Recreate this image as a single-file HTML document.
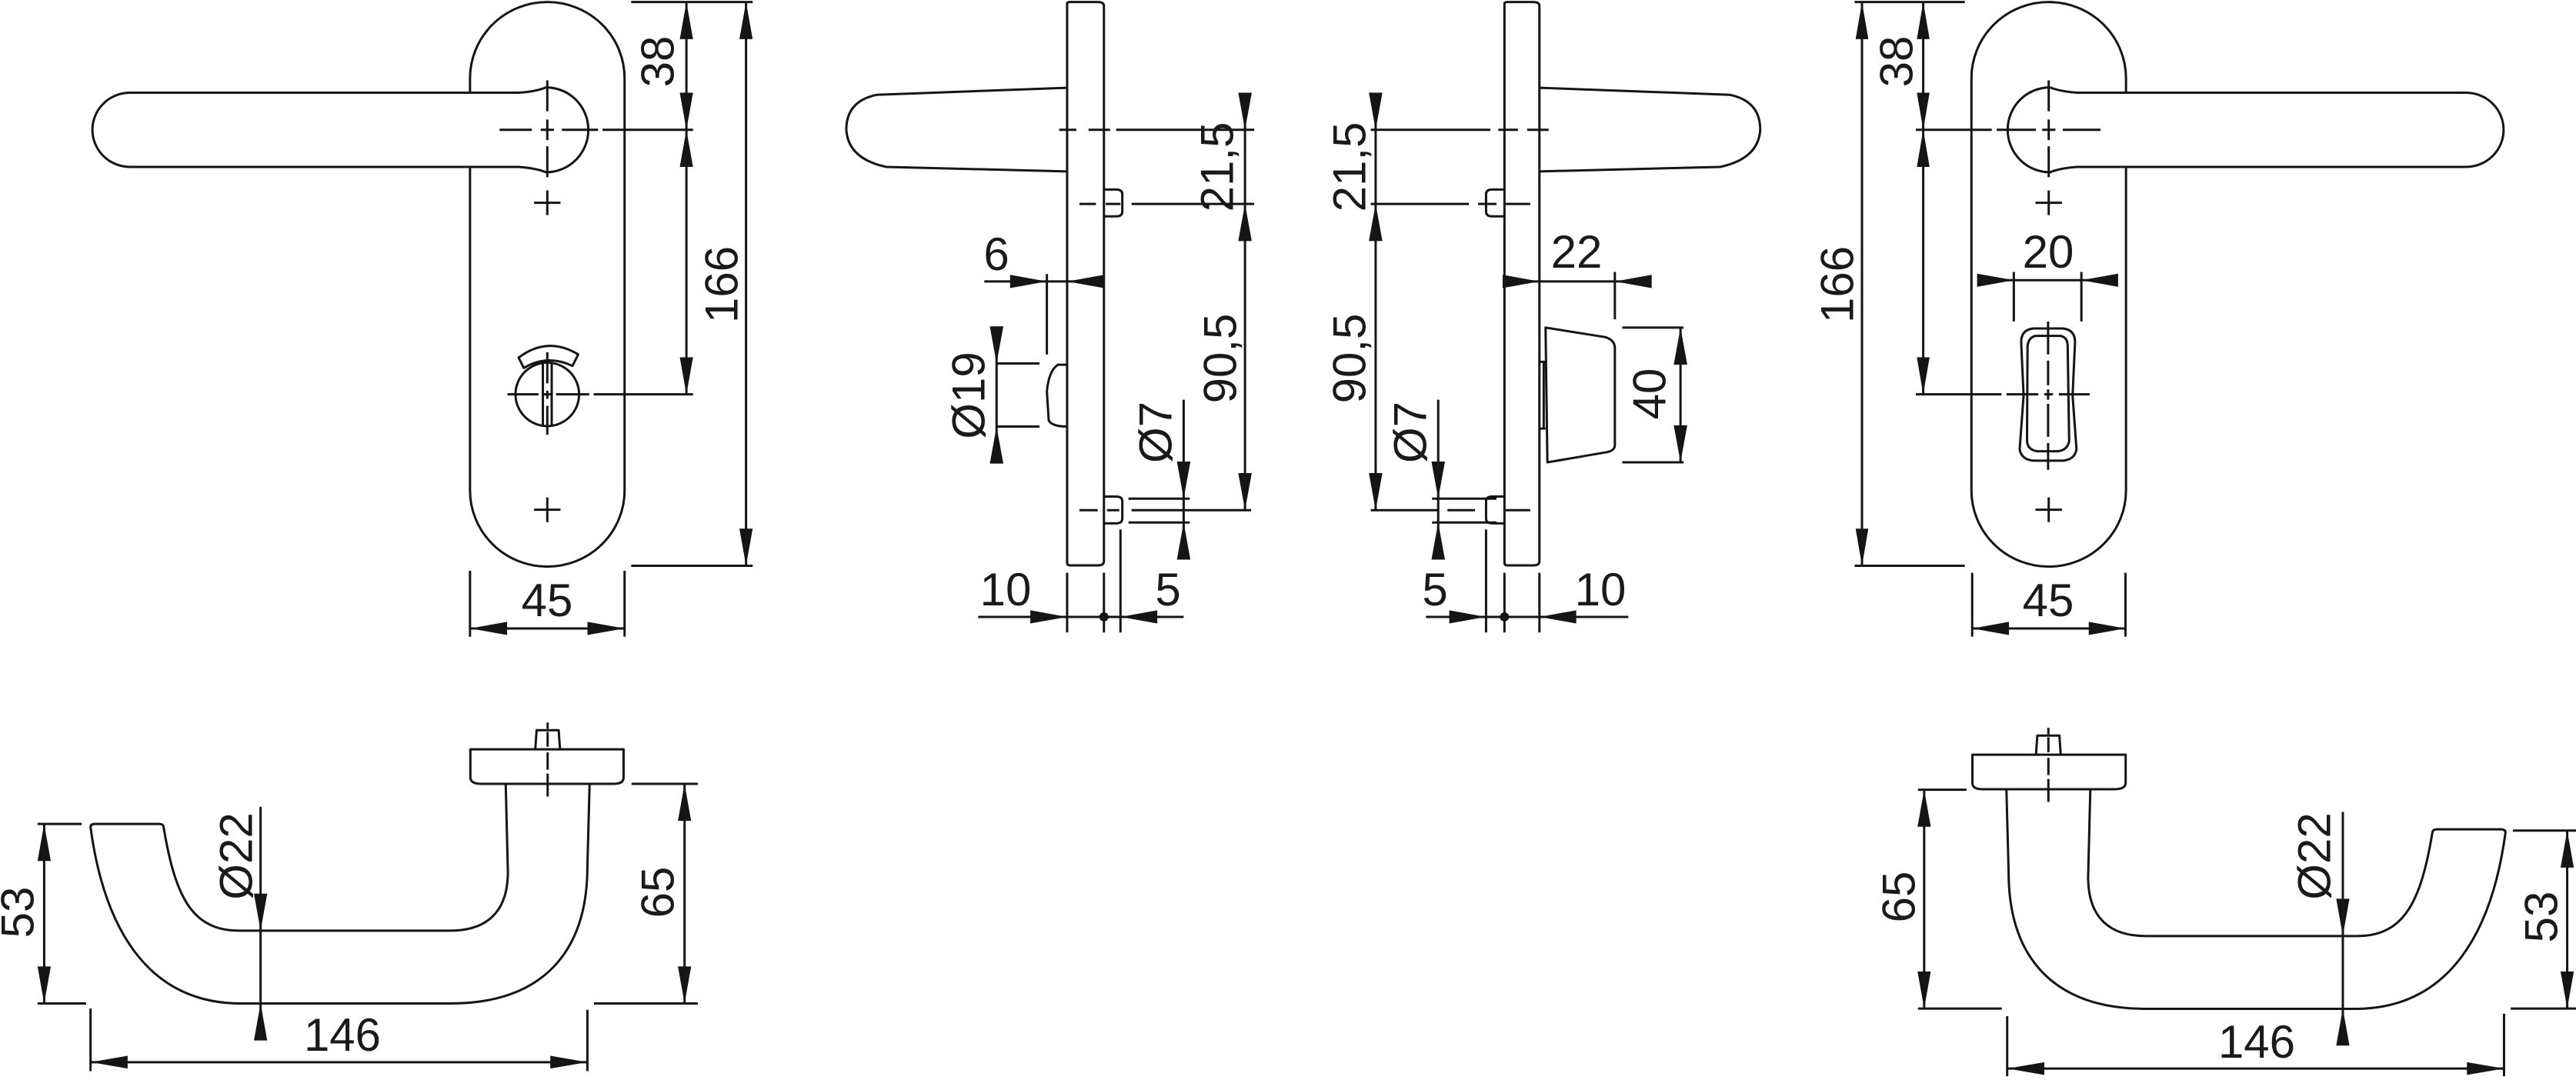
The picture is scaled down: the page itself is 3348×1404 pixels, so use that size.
<!DOCTYPE html>
<html><head><meta charset="utf-8"><style>
html,body{margin:0;padding:0;background:#fff;}
svg{display:block}
.s path,.s ellipse,path.s,ellipse.s{fill:none;stroke:#151515;stroke-width:3;vector-effect:non-scaling-stroke;stroke-linejoin:round}
.a polygon{fill:#151515;stroke:none}
text{font-family:"Liberation Sans",Arial,sans-serif;font-size:60px;fill:#1a1a1a}
</style></head><body>
<svg width="3348" height="1404" xmlns="http://www.w3.org/2000/svg">
<defs>
<g id="tv" class="s">
<path d="M890,225 L890,190 A175,185 0 0 1 1240,190 L1240,1190 A175,185 0 0 1 890,1190 L890,405"/>
<path d="M1062,212 Q1040,222 1000,225 L120,225 A85,90 0 0 0 120,405 L1000,405 Q1040,408 1062,418 A95,102 0 1 0 1062,212"/>
<path d="M1065,195 V270 M1065,290 V340 M1065,355 V430"/>
<path d="M1035,492 H1095 M1065,462 V522 M1035,1237 H1095 M1065,1207 V1267"/>
</g>
<g id="bv" class="s">
<path d="M1065,160 H1412 V270 Q1412,295 1390,295 H1090 Q1065,295 1065,270 Z"/>
<path d="M1212,160 L1215,85 H1265 L1268,160"/>
<path d="M1240,55 V80 M1240,92 V150 M1240,172 V240 M1240,255 V345"/>
<path d="M1145,295 L1150,640 C1150,800 1100,870 1020,870 L540,870 C430,870 395,720 370,460 Q368,452 360,452 L215,452 Q205,452 205,465 C235,850 330,1150 540,1155 L1020,1155 C1230,1155 1330,950 1330,620 L1335,295"/>
</g>
</defs>

<!-- top-left view -->
<g transform="translate(100,0) scale(0.574,0.5357)">
<use href="#tv"/>
<g class="s">
<path d="M957,315 H1030 M1050,315 H1080 M1098,315 H1180 M1190,315 H1395"/>
<ellipse cx="1065" cy="957" rx="72" ry="77"/>
<path d="M1055,880 V1032 M1075,880 V1032"/>
<path d="M1000,868 Q1065,815 1135,860 L1122,888 Q1065,859 1012,893 Z"/>
<path d="M1065,855 V930 M1065,948 V968 M1065,985 V1055 M975,957 H1045 M1055,957 H1075 M1085,957 H1160 M1170,957 H1395"/>
<path d="M1380,5 V957 M1515,5 V1373 M1255,5 H1530 M1255,1373 H1530 M890,1525 H1240 M890,1385 V1545 M1240,1385 V1545"/>
</g>
<g class="a">
<polygon points="1380,5 1365,95 1395,95"/><polygon points="1380,315 1365,225 1395,225"/>
<polygon points="1380,315 1365,405 1395,405"/><polygon points="1380,957 1365,867 1395,867"/>
<polygon points="1515,5 1500,95 1530,95"/><polygon points="1515,1373 1500,1283 1530,1283"/>
<polygon points="890,1525 974,1509 974,1541"/><polygon points="1240,1525 1156,1509 1156,1541"/>
</g>
</g>

<!-- top-right view -->
<g transform="translate(3374,0) scale(-1,1)"><g transform="translate(100,0) scale(0.574,0.5357)"><use href="#tv"/></g></g>
<g transform="translate(2350,0) scale(0.6365,0.5357)">
<g class="s">
<path d="M235,5 V957 M110,5 V1373 M95,5 H320 M95,1373 H320 M335,1525 H648 M335,1390 V1545 M648,1390 V1545"/>
<path d="M220,315 H375 M385,315 H465 M478,315 H505 M520,315 H597"/>
<path d="M220,957 H395 M405,957 H470 M482,957 H500 M512,957 H575"/>
<path d="M490,780 V860 M490,875 V935 M490,945 V970 M490,980 V1060 M490,1075 V1140"/>
<path d="M352,680 H632 M420,660 V780 M558,660 V780"/>
<path d="M460,797 L520,797 Q545,800 545,830 L540,960 L548,1090 Q545,1115 520,1118 L460,1118 Q435,1115 432,1090 L440,960 L435,830 Q435,800 460,797 Z"/>
<path d="M465,815 L515,815 Q530,818 530,840 L533,1070 Q530,1092 510,1095 L468,1095 Q448,1092 447,1070 L448,840 Q450,818 465,815 Z"/>
</g>
<g class="a">
<polygon points="235,5 222,95 248,95"/><polygon points="235,315 222,225 248,225"/>
<polygon points="235,315 222,405 248,405"/><polygon points="235,957 222,867 248,867"/>
<polygon points="110,5 97,95 123,95"/><polygon points="110,1373 97,1283 123,1283"/>
<polygon points="335,1525 410,1509 410,1541"/><polygon points="648,1525 573,1509 573,1541"/>
<polygon points="420,680 345,664 345,696"/><polygon points="558,680 633,664 633,696"/>
</g>
</g>

<!-- middle side views -->
<g transform="translate(1080,0) scale(0.7972,0.5357)">
<g class="s">
<path d="M385,8 Q385,5 390,5 L435,5 Q445,5 445,15 L445,1362 Q445,1372 435,1372 L390,1372 Q385,1372 385,1366 Z"/>
<path d="M385,213 L75,230 Q25,245 25,315 Q28,385 90,405 L385,416"/>
<path d="M372,315 H400 M420,315 H455 M465,315 H690 M405,495 H432 M448,495 H472 M490,495 H690 M405,1238 H435 M450,1238 H470 M490,1238 H685"/>
<path d="M445,460 H465 Q475,460 475,472 V513 Q475,525 465,525 H445 M445,1205 H465 Q475,1205 475,1217 V1258 Q475,1270 465,1270 H445"/>
<path d="M675,230 V1238 M575,970 V1345 M485,1210 H585 M485,1268 H585 M472,1285 V1535 M270,800 V1120 M270,882 H340 M270,1035 H340"/>
<path d="M385,885 H370 Q355,900 352,950 L355,1020 Q360,1035 385,1035"/>
<path d="M250,683 H440 M352,665 V860 M240,1497 H575 M385,1390 V1535 M445,1390 V1535"/>

<path d="M1098,8 Q1098,5 1103,5 L1145,5 Q1155,5 1155,15 L1155,1362 Q1155,1372 1145,1372 L1103,1372 Q1098,1372 1098,1366 Z"/>
<path d="M1155,213 L1465,230 Q1515,245 1515,315 Q1512,385 1450,405 L1155,416"/>
<path d="M880,315 H1075 M1088,315 H1120 M1135,315 H1170 M880,495 H1040 M1055,495 H1085 M1100,495 H1140 M880,1238 H990 M1005,1238 H1050 M1100,1238 H1140"/>
<path d="M1098,460 H1078 Q1068,460 1068,472 V513 Q1068,525 1078,525 H1098 M1098,1205 H1078 Q1068,1205 1068,1217 V1258 Q1068,1270 1078,1270 H1098"/>
<path d="M888,230 V1238 M990,970 V1345 M980,1210 H1085 M980,1268 H1085 M1068,1285 V1535"/>
<path d="M1098,683 H1335 M1278,660 V775"/>
<path d="M1165,795 L1262,818 Q1278,825 1278,845 V1080 Q1278,1095 1262,1098 L1168,1122 Z M1155,878 H1165 M1155,1040 H1165 M1162,878 V1040"/>
<path d="M1385,795 V1122 M1290,795 H1390 M1290,1122 H1390"/>
<path d="M970,1497 H1300 M1098,1390 V1535 M1155,1390 V1535"/>
</g>
<g class="a">
<polygon points="675,315 664,225 686,225"/><polygon points="675,495 664,585 686,585"/><polygon points="675,1238 664,1148 686,1148"/>
<polygon points="575,1210 564,1120 586,1120"/><polygon points="575,1268 564,1358 586,1358"/>
<polygon points="270,882 259,792 281,792"/><polygon points="270,1035 259,1125 281,1125"/>
<polygon points="352,683 292,667 292,699"/><polygon points="385,683 445,667 445,699"/>
<polygon points="385,1497 325,1481 325,1513"/><polygon points="472,1497 532,1481 532,1513"/>
<ellipse cx="445" cy="1497" rx="7.5" ry="11" fill="#151515"/>
<polygon points="888,315 877,225 899,225"/><polygon points="888,495 877,585 899,585"/><polygon points="888,1238 877,1148 899,1148"/>
<polygon points="990,1210 979,1120 1001,1120"/><polygon points="990,1268 979,1358 1001,1358"/>
<polygon points="1155,683 1095,667 1095,699"/><polygon points="1278,683 1338,667 1338,699"/>
<polygon points="1385,795 1374,885 1396,885"/><polygon points="1385,1122 1374,1032 1396,1032"/>
<polygon points="1068,1497 1008,1481 1008,1513"/><polygon points="1155,1497 1215,1481 1215,1513"/>
<ellipse cx="1098" cy="1497" rx="7.5" ry="11" fill="#151515"/>
</g>
</g>

<!-- bottom-left -->
<g transform="translate(0,921) scale(0.574,0.332)">
<use href="#bv"/>
<g class="s"><path d="M100,452 V1155 M85,452 H185 M85,1155 H195 M1550,295 V1155 M1430,295 H1580 M1345,1155 H1580 M590,385 V1290 M205,1385 H1330 M205,1175 V1420 M1330,1180 V1420"/></g>
<g class="a">
<polygon points="100,452 85,597 115,597"/><polygon points="100,1155 85,1010 115,1010"/>
<polygon points="1550,295 1535,440 1565,440"/><polygon points="1550,1155 1535,1010 1565,1010"/>
<polygon points="590,870 575,725 605,725"/><polygon points="590,1155 575,1300 605,1300"/>
<polygon points="205,1385 289,1360 289,1410"/><polygon points="1330,1385 1246,1360 1246,1410"/>
</g>
</g>

<!-- bottom-right -->
<g transform="translate(3374,7) scale(-1,1)"><g transform="translate(0,921) scale(0.574,0.332)"><use href="#bv"/></g></g>
<g transform="translate(2448,921) scale(0.574,0.332)">
<g class="s"><path d="M92,318 V1175 M78,318 H188 M78,1175 H268 M1548,478 V1175 M1425,478 H1568 M1420,1175 H1568 M1040,405 V1310 M280,1410 H1405 M280,1205 V1440 M1405,1195 V1440"/></g>
<g class="a">
<polygon points="92,318 77,463 107,463"/><polygon points="92,1175 77,1030 107,1030"/>
<polygon points="1548,478 1533,623 1563,623"/><polygon points="1548,1175 1533,1030 1563,1030"/>
<polygon points="1040,890 1025,745 1055,745"/><polygon points="1040,1175 1025,1320 1055,1320"/>
<polygon points="280,1410 364,1385 364,1435"/><polygon points="1405,1410 1321,1385 1321,1435"/>
</g>
</g>

<!-- texts -->
<g text-anchor="middle" dominant-baseline="central">
<text transform="translate(855,80) rotate(-90)">38</text>
<text transform="translate(938,370) rotate(-90)">166</text>
<text transform="translate(1582,217) rotate(-90)">21,5</text>
<text transform="translate(1586,466) rotate(-90)">90,5</text>
<text transform="translate(1502,562) rotate(-90)">Ø7</text>
<text transform="translate(1259,514) rotate(-90)">Ø19</text>
<text transform="translate(1754,217) rotate(-90)">21,5</text>
<text transform="translate(1754,466) rotate(-90)">90,5</text>
<text transform="translate(1833,562) rotate(-90)">Ø7</text>
<text transform="translate(2144,512) rotate(-90)">40</text>
<text transform="translate(2465,80) rotate(-90)">38</text>
<text transform="translate(2388,370) rotate(-90)">166</text>
<text transform="translate(23,1186) rotate(-90)">53</text>
<text transform="translate(307,1113) rotate(-90)">Ø22</text>
<text transform="translate(855,1160) rotate(-90)">65</text>
<text transform="translate(2468,1166) rotate(-90)">65</text>
<text transform="translate(3008,1113) rotate(-90)">Ø22</text>
<text transform="translate(3303,1192) rotate(-90)">53</text>
</g>
<g text-anchor="middle">
<text x="711" y="801">45</text>
<text x="2662" y="801">45</text>
<text x="2662" y="348">20</text>
<text x="1295" y="351">6</text>
<text x="1307" y="787">10</text>
<text x="1518" y="787">5</text>
<text x="2049" y="348">22</text>
<text x="1865" y="787">5</text>
<text x="2080" y="787">10</text>
<text x="445" y="1366">146</text>
<text x="2933" y="1375">146</text>
</g>
</svg>
</body></html>
